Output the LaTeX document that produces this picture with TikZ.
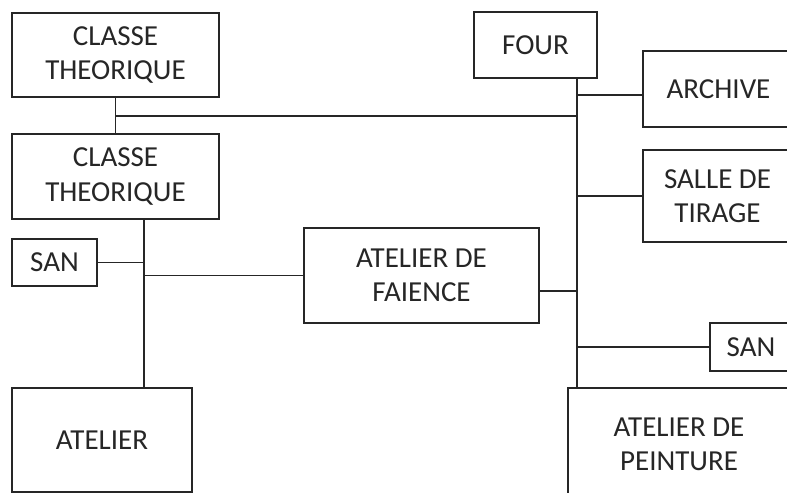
\documentclass[tikz,border=0pt]{standalone}
\usepackage{fontspec}
\setmainfont{Carlito}
\usepackage{tikz}
\usetikzlibrary{positioning, calc}
\definecolor{cInk}{RGB}{38,38,38}
\tikzset{
	salle/.style ={rectangle, draw=cInk, line width=0.9pt, inner sep=0pt, outer sep=0pt, align=center, text=cInk, fill=white},
	liaison/.style={draw=cInk, line width=0.9pt},
}
\begin{document}
\begin{tikzpicture}[x=0.02cm, y=-0.02cm, font=\fontsize{16.5}{19.5}\selectfont]
	\useasboundingbox (0,0) rectangle (787,493);
	\clip (0,0) rectangle (787,493);
	% bloc gauche
	\node[salle, minimum width=4.14cm, minimum height=1.68cm] (ct1) at (115.5,55) {CLASSE\\THEORIQUE};
	\node[salle, minimum width=4.14cm, minimum height=1.70cm] (ct2) at (115.5,176.5) {CLASSE\\THEORIQUE};
	\node[salle, minimum width=1.70cm, minimum height=0.94cm] (san1) at (54.5,262.5) {SAN};
	\node[salle, minimum width=3.60cm, minimum height=2.08cm] (atel) at (102,440) {ATELIER};
	% centre
	\node[salle, minimum width=4.70cm, minimum height=1.90cm] (faience) at (421.5,275.5) {ATELIER DE\\FAIENCE};
	% bloc droit
	\node[salle, minimum width=2.46cm, minimum height=1.32cm] (four) at (535.5,45) {FOUR};
	\node[salle, minimum width=3.02cm, minimum height=1.52cm] (archive) at (718.5,89) {ARCHIVE};
	\node[salle, minimum width=2.98cm, minimum height=1.84cm] (tirage) at (717.5,196) {SALLE DE\\TIRAGE};
	\node[salle, minimum width=1.64cm, minimum height=0.96cm] (san2) at (751,347) {SAN};
	\node[salle, minimum width=4.44cm, minimum height=2.24cm] (peint) at (679,444) {ATELIER DE\\PEINTURE};
	% axes de circulation
	\coordinate (axeG) at (144,0);
	\coordinate (axeD) at (577,0);
	\draw[liaison] (ct1.south) -- (ct2.north);
	\draw[liaison] (ct1.south |- 0,116) -- (axeD |- 0,116);
	\draw[liaison] (axeG |- ct2.south) -- (axeG |- atel.north);
	\draw[liaison] (san1.east) -- (axeG |- san1.east);
	\draw[liaison] (faience.west) -- (axeG |- faience.west);
	\draw[liaison] (axeD |- four.south) -- (axeD |- peint.north);
	\draw[liaison] (axeD |- 0,95) -- (archive.west |- 0,95);
	\draw[liaison] (axeD |- tirage.west) -- (tirage.west);
	\draw[liaison] (faience.east |- 0,291) -- (axeD |- 0,291);
	\draw[liaison] (axeD |- san2.west) -- (san2.west);
\end{tikzpicture}
\end{document}
